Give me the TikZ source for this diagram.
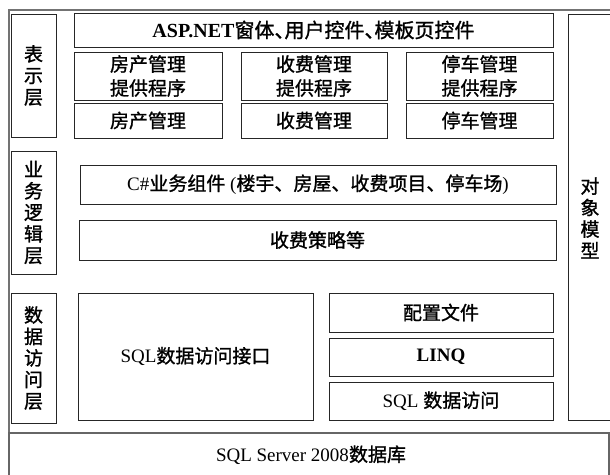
\documentclass[tikz,border=0pt]{standalone}
\usepackage{fontspec}
\setmainfont{Liberation Serif}
\newfontfamily\cjk[FakeBold=1.2]{Noto Sans CJK SC}
\newcommand\dun{\makebox[0.5em][l]{、}}
\newcommand\mybox[7][]{%
  \pgfmathsetmacro\bw{#5-#3}\pgfmathsetmacro\bh{#6-#4}%
  \node[box,#1,minimum width=\bw pt,minimum height=\bh pt] (#2) at ({(#3+#5)/2},{(#4+#6)/2}) {#7};}
\begin{document}
\begin{tikzpicture}[x=1pt,y=-1pt,
  box/.style={draw=black!85, line width=0.9pt, inner sep=0pt, align=center,
    font=\cjk\fontsize{19}{24}\selectfont},
  vlabel/.style={font=\cjk\fontsize{19}{21.5}\selectfont},
  frame/.style={draw=black!55, line width=1.6pt}]
\useasboundingbox[fill=white] (0,0) rectangle (610,474);
% outer frame
\draw[frame] (9,490) -- (9,10) -- (640,10);
% bottom database box
\mybox[draw=black!60,line width=1.2pt]{db}{9}{433}{609}{490}{}
\node[font=\fontsize{19}{24}\selectfont] (dbt) at (311,455) {SQL Server 2008{\cjk 数据库}};
% layer labels
\mybox[vlabel]{l1}{11}{14}{56}{137}{表\\示\\层}
\mybox[vlabel]{l2}{11}{151}{56}{274}{业\\务\\逻\\辑\\层}
\mybox[vlabel]{l3}{11}{293}{56}{423}{数\\据\\访\\问\\层}
\mybox[vlabel]{om}{568}{14}{640}{420}{}
\node[vlabel, align=center] (omt) at (590,218) {对\\象\\模\\型};
% presentation layer
\mybox[font=\fontsize{20}{24}\selectfont]{asp}{74}{13}{553}{47}{\textbf{ASP.NET}{\cjk 窗体\dun 用户控件\dun 模板页控件}}
\mybox{p1}{74}{52}{222}{100}{房产管理\\提供程序}
\mybox{p2}{241}{52}{387}{100}{收费管理\\提供程序}
\mybox{p3}{406}{52}{553}{100}{停车管理\\提供程序}
\mybox{q1}{74}{103}{222}{138}{房产管理}
\mybox{q2}{241}{103}{387}{138}{收费管理}
\mybox{q3}{406}{103}{553}{138}{停车管理}
% business layer
\mybox{bc}{80}{165}{556}{204}{{\rmfamily C\#}业务组件{\rmfamily\ (}楼宇、房屋、收费项目、停车场{\rmfamily )}}
\mybox{bs}{79}{220}{556}{260}{收费策略等}
% data layer
\mybox{di}{78}{293}{313}{420}{{\rmfamily SQL}数据访问接口}
\mybox{cf}{329}{293}{553}{332}{配置文件}
\mybox{lq}{329}{338}{553}{376}{{\rmfamily\bfseries LINQ}}
\mybox{sd}{329}{382}{553}{420}{{\rmfamily SQL }数据访问}
\end{tikzpicture}
\end{document}
